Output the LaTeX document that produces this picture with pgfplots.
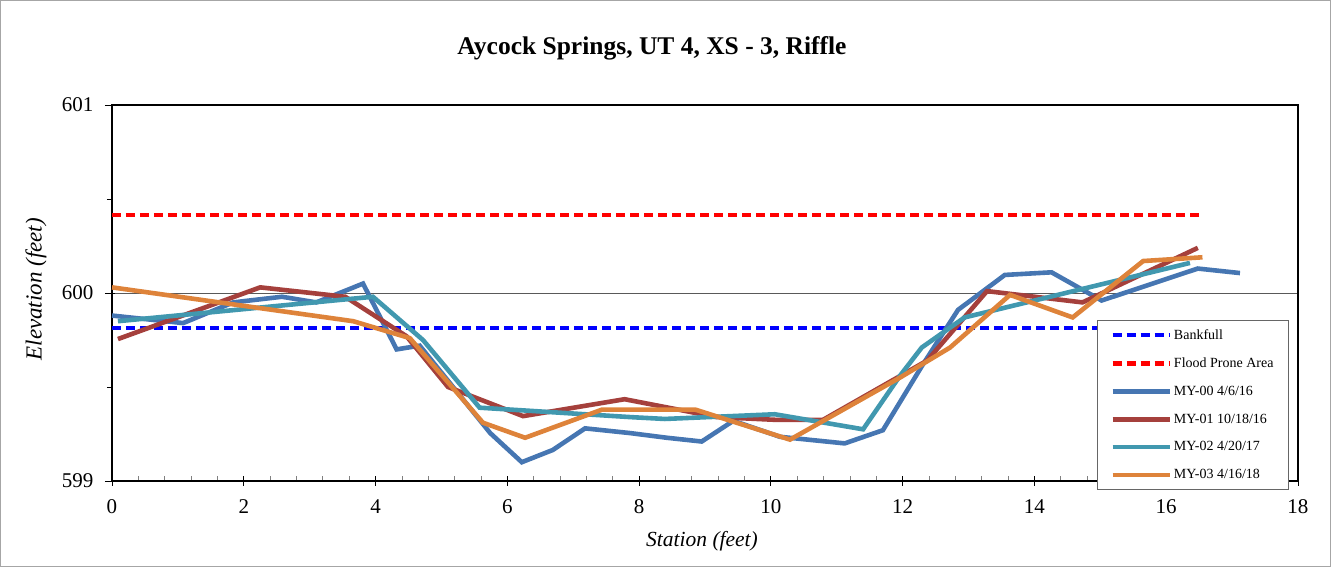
\documentclass[border=0pt]{standalone}
\usepackage{fontspec}
\setmainfont{Liberation Serif}
\usepackage{pgfplots}
\pgfplotsset{compat=1.18}
\definecolor{cA}{RGB}{70,118,178}
\definecolor{cB}{RGB}{165,64,60}
\definecolor{cC}{RGB}{65,152,175}
\definecolor{cD}{RGB}{222,131,58}
\begin{document}
\begin{tikzpicture}[x=1pt,y=1pt]
\useasboundingbox (-112,-86) rectangle (1219,481);
\draw[black!35, line width=1.2pt] (-111.4,-85.4) rectangle (1218.4,480.4);
\node[font=\fontsize{25.5}{29}\selectfont\bfseries] at (540,433) {Aycock Springs, UT 4, XS - 3, Riffle};
\begin{axis}[
  at={(0,0)}, anchor=south west,
  scale only axis, width=1186pt, height=376pt,
  xmin=0, xmax=18, ymin=599, ymax=601,
  xtick={0,2,...,18}, minor x tick num=4,
  ytick={599,600,601}, minor ytick={599.5,600.5},
  xtick pos=bottom, ytick pos=left,
  ymajorgrids, grid style={black!65, line width=0.8pt},
  axis line style={line width=1.6pt},
  tick align=inside,
  major tick length=10pt, minor tick length=5pt,
  every tick/.style={black, line width=0.8pt},
  major x tick style={yshift=-5pt},
  minor x tick style={black!50},
  major y tick style={xshift=-7pt},
  minor y tick style={xshift=-5pt},
  tick label style={font=\fontsize{21}{25}\selectfont},
  /pgf/number format/assume math mode=true,
  xticklabel style={yshift=-15pt},
  yticklabel style={xshift=-15pt},
  xlabel={\itshape Station (feet)},
  ylabel={\itshape Elevation (feet)},
  xlabel style={font=\fontsize{21.5}{25}\selectfont, at={(axis description cs:0.4975,-0.16)}, anchor=center},
  ylabel style={font=\fontsize{23}{26}\selectfont, at={(axis description cs:-0.064,0.51)}, anchor=center, rotate=0},
  legend style={at={(axis description cs:0.8305,0.428)}, anchor=north west,
    font=\fontsize{14}{16}\selectfont, draw=black!60, line width=0.8pt,
    row sep=13pt, inner xsep=13pt, inner ysep=7pt},
  legend cell align=left,
  legend image code/.code={\draw[#1, line width=4.6pt] (0pt,0pt) -- (57pt,0pt);},
  clip=false,
]
\addplot[blue, line width=4.4pt, dash pattern=on 9pt off 5pt] coordinates {(0,599.814) (16.5,599.814)};
\addlegendentry{Bankfull}
\addplot[red, line width=4.4pt, dash pattern=on 9pt off 5pt] coordinates {(0,600.415) (16.5,600.415)};
\addlegendentry{Flood Prone Area}
\addplot[cA, line width=4.6pt] coordinates {
(0,599.88) (1.08,599.84) (1.84,599.95) (2.58,599.98) (3.1,599.95) (3.81,600.05)
(4.32,599.70) (4.67,599.72) (5.74,599.255) (6.22,599.10) (6.69,599.165) (7.18,599.28)
(7.86,599.255) (8.42,599.23) (8.95,599.21) (9.43,599.32) (10.14,599.235) (11.12,599.20)
(11.7,599.27) (12.29,599.61) (12.84,599.91) (13.55,600.096) (14.26,600.11) (15.02,599.96)
(16.48,600.13) (17.12,600.106)};
\addlegendentry{MY-00 4/6/16}
\addplot[cB, line width=4.6pt] coordinates {
(0.09,599.755) (2.25,600.03) (3.54,599.98) (4.47,599.77) (5.10,599.50) (6.24,599.345)
(7.78,599.435) (9.18,599.34) (10.09,599.325) (10.79,599.325) (12.37,599.64) (13.28,600.01)
(14.73,599.95) (16.48,600.24)};
\addlegendentry{MY-01 10/18/16}
\addplot[cC, line width=4.6pt] coordinates {
(0.09,599.85) (3.96,599.98) (4.72,599.75) (5.58,599.39) (7.86,599.34) (8.39,599.33)
(10.06,599.355) (11.4,599.275) (11.96,599.56) (12.29,599.71) (12.94,599.87) (16.36,600.16)};
\addlegendentry{MY-02 4/20/17}
\addplot[cD, line width=4.6pt] coordinates {
(0,600.03) (3.66,599.85) (4.52,599.76) (5.63,599.31) (6.27,599.23) (7.44,599.38)
(7.86,599.38) (8.85,599.38) (10.29,599.22) (11.96,599.55) (12.72,599.71) (13.63,599.99)
(14.58,599.87) (15.65,600.17) (16.55,600.19)};
\addlegendentry{MY-03 4/16/18}
\end{axis}
\end{tikzpicture}
\end{document}
